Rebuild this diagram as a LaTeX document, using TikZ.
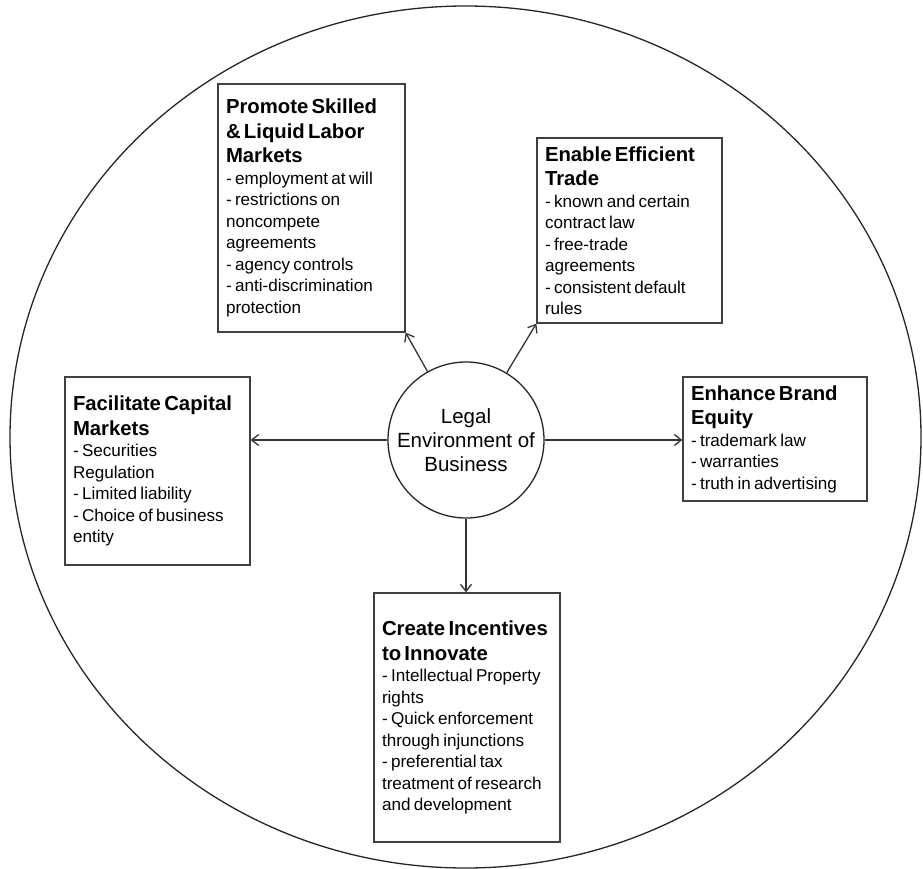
\documentclass[tikz,border=0pt]{standalone}
\usepackage{fontspec}
\setmainfont{Liberation Sans}
\usetikzlibrary{arrows.meta}
\tikzset{
  box/.style={draw=black!75, line width=1.3pt, rectangle, align=left, inner xsep=8pt, inner ysep=0pt, anchor=center},
  arr/.style={draw=black!80, line width=1.3pt, -{Straight Barb[length=7pt, width=11pt, line width=1.3pt]}},
  hub/.style={draw=black!85, line width=1.3pt, circle, minimum size=156pt, inner sep=0pt, align=center, font=\fontsize{20.5}{24}\selectfont},
}
\newcommand{\ttl}[1]{{\fontsize{20.3}{24.5}\selectfont\bfseries #1\par}}
\newcommand{\bdy}{\fontsize{17.1}{21.5}\selectfont}
\begin{document}
\begin{tikzpicture}[x=1pt,y=-1pt]
\useasboundingbox (0,0) rectangle (923,869);
\draw[black!85, line width=1.3pt] (465.5,437) ellipse [x radius=455.5pt, y radius=431pt];

\node[hub] (c) at (466,440) {Legal\\Environment of\\Business};

\node[box, text width=171pt, minimum height=248pt] (p) at (311.5,208)
  {\ttl{Promote Skilled\\\& Liquid Labor\\Markets}\bdy - employment at will\\- restrictions on\\noncompete\\agreements\\- agency controls\\- anti-discrimination\\protection\par};

\node[box, text width=169pt, minimum height=185pt] (e) at (629.5,230.5)
  {\ttl{Enable Efficient\\Trade}\bdy - known and certain\\contract law\\- free-trade\\agreements\\- consistent default\\rules\par};

\node[box, text width=169pt, minimum height=188pt] (f) at (157.5,471)
  {\ttl{Facilitate Capital\\Markets}\bdy - Securities\\Regulation\\- Limited liability\\- Choice of business\\entity\par};

\node[box, text width=168pt, minimum height=124pt] (h) at (775,439)
  {\ttl{Enhance Brand\\Equity}\bdy - trademark law\\- warranties\\- truth in advertising\par};

\node[box, text width=170pt, minimum height=249pt] (k) at (467,717.5)
  {\ttl{Create Incentives\\to Innovate}\bdy - Intellectual Property\\rights\\- Quick enforcement\\through injunctions\\- preferential tax\\treatment of research\\and development\par};

\draw[arr] (c) -- (p.south east);
\draw[arr] (c) -- (e.south west);
\draw[arr] (c.west) -- (c.west -| f.east);
\draw[arr] (c.east) -- (c.east -| h.west);
\draw[arr] (c.south) -- (c.south |- k.north);
\end{tikzpicture}
\end{document}
